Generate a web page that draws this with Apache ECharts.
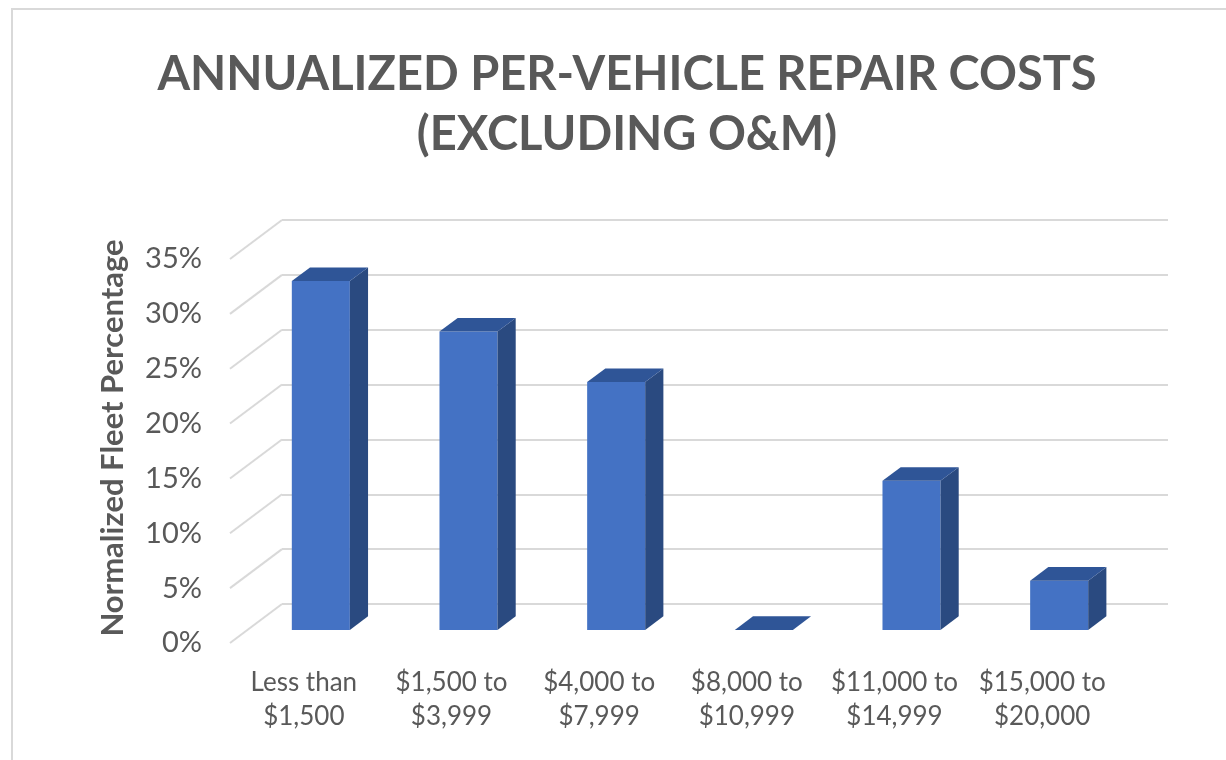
<!DOCTYPE html>
<html>
<head>
<meta charset="utf-8">
<title>Annualized Per-Vehicle Repair Costs</title>
<script src="https://cdn.jsdelivr.net/npm/echarts@6/dist/echarts.min.js"></script>
<style>
  html, body { margin: 0; padding: 0; background: #fff; }
  #chart { width: 1226px; height: 760px; }
</style>
</head>
<body>
<div id="chart"></div>
<script>
// data
var categories = ['Less than\n$1,500', '$1,500 to\n$3,999', '$4,000 to\n$7,999',
                  '$8,000 to\n$10,999', '$11,000 to\n$14,999', '$15,000 to\n$20,000'];
var fleetPct = [31.8, 27.2, 22.6, 0, 13.6, 4.5];
var yTicks = [0, 5, 10, 15, 20, 25, 30, 35];

// fake 3D: full depth of the floor in px, and where the bars sit inside it
var DEPTH_X = 52, DEPTH_Y = 39;
var BAR_DEPTH = 0.35;
var BAR_FRAC = 0.393;

var GRAY = '#595959';
var FONT = 'Lato, "Open Sans", sans-serif';

var chart = echarts.init(document.getElementById('chart'));

function renderBar(params, api) {
  var cat = api.value(0), val = api.value(1);
  var base = api.coord([cat, 0]);
  var top = api.coord([cat, val]);
  var w = api.size([1, 0])[0] * BAR_FRAC;
  var x0 = base[0] - w / 2, x1 = base[0] + w / 2;
  var yb = base[1], yt = top[1];
  var dx = DEPTH_X * BAR_DEPTH, dy = DEPTH_Y * BAR_DEPTH;
  var kids = [];
  if (yb - yt > 0.5) {
    kids.push({ type: 'polygon', shape: { points: [[x0, yt], [x1, yt], [x1, yb], [x0, yb]] },
      style: { fill: '#4472c4' } });
    kids.push({ type: 'polygon', shape: { points: [[x1, yt], [x1 + dx, yt - dy], [x1 + dx, yb - dy], [x1, yb]] },
      style: { fill: '#2a4a80' } });
  }
  kids.push({ type: 'polygon', shape: { points: [[x0, yt], [x0 + dx, yt - dy], [x1 + dx, yt - dy], [x1, yt]] },
    style: { fill: '#2f5597' } });
  return { type: 'group', children: kids };
}

function renderDiagonal(params, api) {
  var p = api.coord([0, api.value(1)]);
  var x = params.coordSys.x;
  return {
    type: 'line',
    shape: { x1: x, y1: p[1], x2: x + DEPTH_X, y2: p[1] - DEPTH_Y },
    style: { stroke: '#d9d9d9', lineWidth: 2 }
  };
}

var option = {
  backgroundColor: '#fff',
  animation: false,
  textStyle: { fontFamily: FONT },
  graphic: [
    {
      type: 'rect',
      shape: { x: 12, y: 9, width: 1240, height: 780 },
      style: { fill: 'none', stroke: '#d9d9d9', lineWidth: 2 },
      silent: true
    },
    {
      type: 'text',
      x: 627, y: 45,
      style: {
        text: 'ANNUALIZED PER-VEHICLE REPAIR COSTS\n(EXCLUDING O&M)',
        textAlign: 'center', textVerticalAlign: 'top',
        font: 'bold 47px ' + FONT, lineHeight: 60, fill: GRAY
      }
    }
  ],
  grid: [
    // front face of the bars
    { left: 247, right: 93, top: 246, bottom: 130 },
    // back wall
    { left: 282, right: 58, top: 220, bottom: 156 },
    // front edge of the floor
    { left: 230, right: 110, top: 259, bottom: 117 }
  ],
  xAxis: [
    { gridIndex: 0, type: 'category', data: categories, axisLine: { show: false },
      axisTick: { show: false }, axisLabel: { show: false } },
    { gridIndex: 1, type: 'category', data: categories, show: false },
    { gridIndex: 2, type: 'category', data: categories, axisLine: { show: false },
      axisTick: { show: false },
      axisLabel: { interval: 0, fontSize: 26, lineHeight: 34, color: GRAY, margin: 23 } }
  ],
  yAxis: [
    { gridIndex: 0, type: 'value', min: 0, max: 35, interval: 5,
      axisLabel: { show: false }, splitLine: { show: false },
      name: 'Normalized Fleet Percentage', nameLocation: 'middle', nameRotate: 90, nameGap: 119,
      nameTextStyle: { fontSize: 31, fontWeight: 'bold', color: GRAY } },
    { gridIndex: 1, type: 'value', min: 0, max: 35, interval: 5,
      axisLabel: { show: false },
      splitLine: { show: true, lineStyle: { color: '#d9d9d9', width: 2 } } },
    { gridIndex: 2, type: 'value', min: 0, max: 35, interval: 5,
      splitLine: { show: false },
      axisLabel: { formatter: '{value}%', fontSize: 29, color: GRAY, margin: 28 } }
  ],
  series: [
    { type: 'custom', xAxisIndex: 2, yAxisIndex: 2, renderItem: renderDiagonal,
      data: yTicks.map(function (t) { return [0, t]; }), silent: true, z: 1 },
    { type: 'custom', xAxisIndex: 0, yAxisIndex: 0, renderItem: renderBar,
      data: fleetPct.map(function (v, i) { return [i, v]; }), z: 5 }
  ]
};

chart.setOption(option);
</script>
</body>
</html>
